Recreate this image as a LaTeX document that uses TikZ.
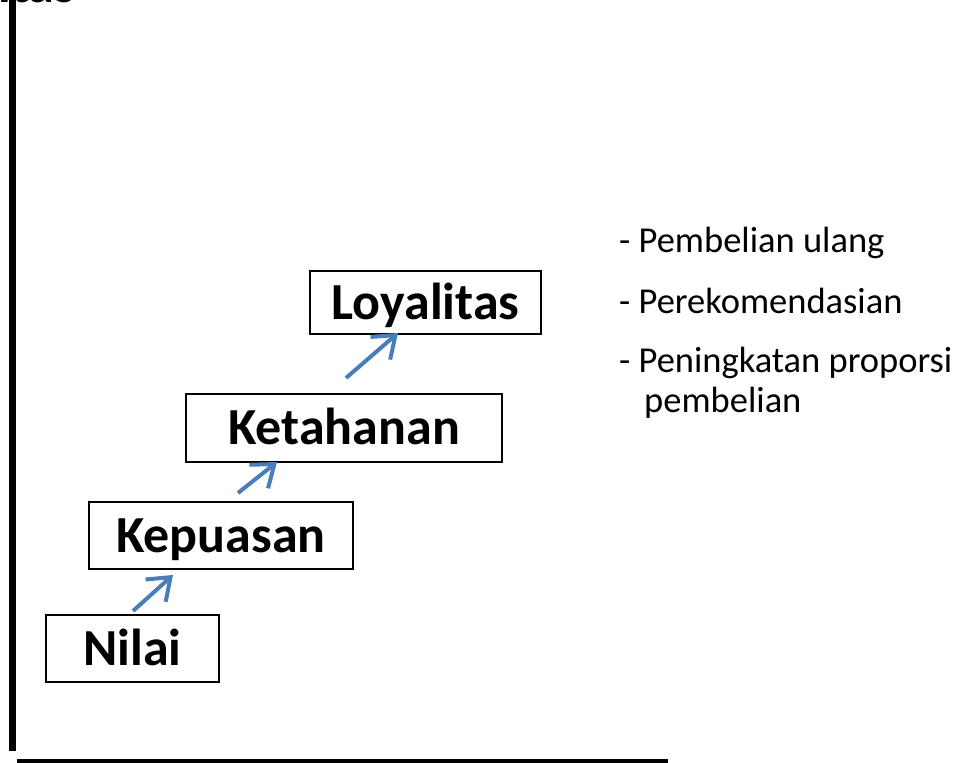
\documentclass[tikz,border=0pt]{standalone}
\usepackage{fontspec}
\setmainfont{Carlito}
\usetikzlibrary{arrows.meta}
\definecolor{arrowblue}{HTML}{4A7EBB}
\tikzset{
  stage/.style={draw=black, line width=2pt, inner sep=0pt,
    font=\fontsize{52}{62}\selectfont\bfseries,
    text height=33pt, text depth=0pt},
  stepup/.style={draw=arrowblue, line width=4pt,
    -{Straight Barb[length=20pt,width=30pt]}},
  note/.style={anchor=base west, inner sep=0pt,
    font=\fontsize{36.5}{44}\selectfont},
  axis/.style={draw=black, line width=6.5pt}
}
\begin{document}
\begin{tikzpicture}[x=1pt,y=-1pt]
  \useasboundingbox (0,0) rectangle (962,763);

  % axes
  \coordinate (ytop) at (12.5,-20);
  \coordinate (ybot) at (12.5,751);
  \coordinate (xleft) at (17,761.5);
  \coordinate (xright) at (668,761.5);
  \draw[axis] (ytop) -- (ybot);
  \draw[axis, line width=5pt] (xleft) -- (xright);
  \node[anchor=base east, inner sep=0pt,
        font=\fontsize{52}{62}\selectfont\bfseries] (ylabel) at (75,2) {Loyalitas};

  % stages
  \node[stage, minimum width=173pt, minimum height=67pt] (nilai) at (132.5,648.5) {Nilai};
  \node[stage, minimum width=264pt, minimum height=67pt] (kepuasan) at (221,535.5) {Kepuasan};
  \node[stage, minimum width=316pt, minimum height=68pt] (ketahanan) at (344,428) {Ketahanan};
  \node[stage, minimum width=231pt, minimum height=63pt] (loyalitas) at (425.5,302.5) {Loyalitas};

  % arrows between stages
  \coordinate (a1s) at (133,611);
  \coordinate (a1e) at (173,575);
  \coordinate (a2s) at (238,493);
  \coordinate (a2e) at (277,462);
  \coordinate (a3s) at (346,378);
  \coordinate (a3e) at (398,333);
  \draw[stepup] (a1s) -- (a1e);
  \draw[stepup] (a2s) -- (a2e);
  \draw[stepup] (a3s) -- (a3e);

  % loyalty indicators
  \node[note] (n1) at (619,252.5) {- Pembelian ulang};
  \node[note] (n2) at (619,313) {- Perekomendasian};
  \node[note] (n3) at (619,372.5) {- Peningkatan proporsi};
  \node[note] (n4) at (644,412) {pembelian};
\end{tikzpicture}
\end{document}
